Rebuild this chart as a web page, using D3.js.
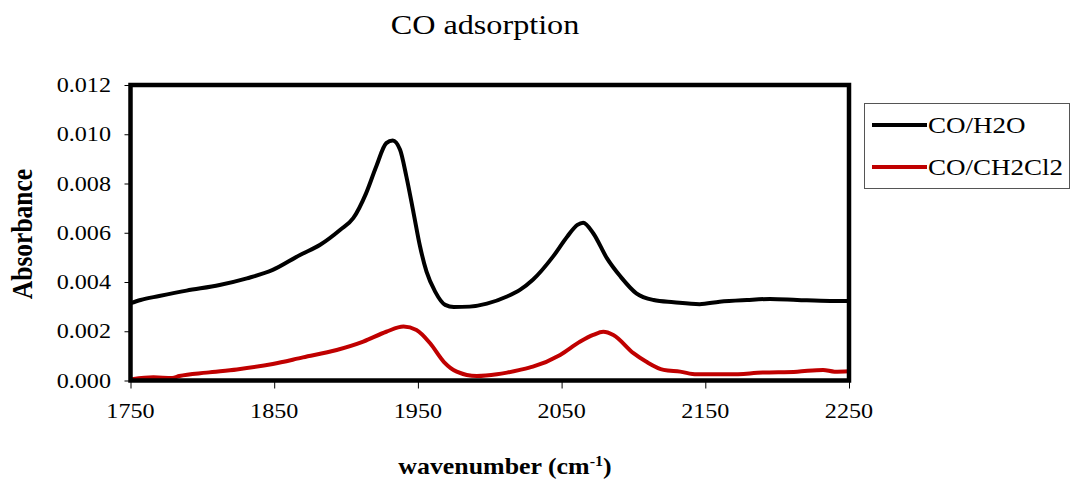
<!DOCTYPE html>
<html><head><meta charset="utf-8">
<script src="https://cdn.jsdelivr.net/npm/d3@7"></script>
<style>body{margin:0;background:#fff}</style>
</head><body><svg id="c" width="1071" height="481"></svg>
<script>
const seriesNames = ["CO/H2O", "CO/CH2Cl2"];
const seriesColors = ["#000000", "#C00000"];
const h2oWavenumber = [1750,1757,1770,1789,1812,1831,1849,1868,1882,1896,1905,1914,1921,1928,1932.5,1937.6,1942,1947,1951.5,1956,1962,1969,1975,1986,1998,2012,2021,2030,2044,2054,2061,2065,2072,2081.5,2091,2102,2114,2128,2146,2160,2179,2195,2214,2237,2250];
const h2oAbs = [0.00314,0.00327,0.00343,0.00365,0.00388,0.00415,0.00449,0.0051,0.00551,0.00612,0.00659,0.00761,0.00869,0.00964,0.00975,0.00937,0.00828,0.0068,0.00544,0.00442,0.00361,0.00307,0.00298,0.003,0.00312,0.00341,0.00368,0.00409,0.00503,0.00585,0.00632,0.00641,0.00598,0.00497,0.00422,0.00354,0.00327,0.00318,0.0031,0.0032,0.00327,0.00331,0.00327,0.00323,0.00323];
const ch2cl2Wavenumber = [1751,1766,1779,1784,1803,1824,1849,1870,1893.5,1912,1928,1940,1949,1958.5,1968,1977,1991,2005,2012,2021,2030,2049,2063,2072,2079,2086,2100,2109,2121,2132.5,2144,2167,2190,2214,2232,2240,2250];
const ch2cl2Abs = [0.00005,0.00013,0.0001,0.00018,0.00032,0.00045,0.00067,0.00094,0.00124,0.00158,0.00198,0.00219,0.00205,0.00151,0.00076,0.00036,0.00018,0.00025,0.00032,0.00043,0.00056,0.00104,0.00158,0.00185,0.00198,0.00185,0.00111,0.00076,0.00043,0.00036,0.00025,0.00025,0.00032,0.00036,0.00043,0.00036,0.00038];
const xTicks = [1750,1850,1950,2050,2150,2250];
const yTicks = [0,0.002,0.004,0.006,0.008,0.010,0.012];
const titleText = "CO adsorption";
const yLabel = "Absorbance";

const SX = 1.15;
const FONT = "'Liberation Serif','Times New Roman',serif";
const svg = d3.select("#c");
const L = 130.5, R = 849, T = 85, B = 380.5;
const x = d3.scaleLinear().domain([1750,2250]).range([L,R]);
const y = d3.scaleLinear().domain([0,0.012]).range([B,T]);

function txt(g, s, px, py, size, anchor, weight, rot) {
  return g.append("text").attr("transform", `translate(${px},${py}) scale(${SX},1)` + (rot ? ` rotate(${rot})` : ""))
    .attr("text-anchor", anchor).attr("font-family", FONT).attr("font-size", size)
    .attr("font-weight", weight || "normal").attr("fill", "#000").text(s);
}

// ticks
svg.append("g").attr("transform", `translate(${L},0)`)
  .call(d3.axisLeft(y).tickValues(yTicks).tickSize(6).tickFormat(""))
  .call(g => g.select(".domain").remove())
  .call(g => g.selectAll("line").attr("stroke", "#000").attr("stroke-width", 1));
svg.append("g").attr("transform", `translate(0,${B})`)
  .call(d3.axisBottom(x).tickValues(xTicks).tickSize(8).tickFormat(""))
  .call(g => g.select(".domain").remove())
  .call(g => g.selectAll("line").attr("stroke", "#000").attr("stroke-width", 1));

yTicks.forEach(v => txt(svg, d3.format(".3f")(v), 111, y(v) + 7, 21, "end"));
xTicks.forEach(v => txt(svg, String(v), x(v), 418, 21, "middle"));

// lines
const line = d3.line().x(d => x(d[0])).y(d => y(d[1])).curve(d3.curveMonotoneX);
const series = [d3.zip(h2oWavenumber, h2oAbs), d3.zip(ch2cl2Wavenumber, ch2cl2Abs)];
series.forEach((s, i) => svg.append("path").datum(s).attr("d", line)
  .attr("fill", "none").attr("stroke", seriesColors[i]).attr("stroke-width", 4)
  .attr("stroke-linejoin", "round"));

// frame
svg.append("rect").attr("x", L).attr("y", T).attr("width", R - L).attr("height", B - T)
  .attr("fill", "none").attr("stroke", "#000").attr("stroke-width", 4.5);

// title
txt(svg, titleText, 485, 34, 28, "middle");
// x label
const xl = txt(svg, "", 505, 474, 22.5, "middle", "bold");
xl.append("tspan").text("wavenumber (cm");
xl.append("tspan").attr("dy", -8).attr("font-size", 14).text("-1");
xl.append("tspan").attr("dy", 8).text(")");
// y label
txt(svg, yLabel, 32, 234, 25.5, "middle", "bold", -90);

// legend
const lg = svg.append("g");
lg.append("rect").attr("x", 864.5).attr("y", 103.5).attr("width", 205).attr("height", 85)
  .attr("fill", "#fff").attr("stroke", "#555").attr("stroke-width", 1);
seriesNames.forEach((n, i) => {
  const ly = 125 + i * 42;
  lg.append("line").attr("x1", 872).attr("x2", 927).attr("y1", ly).attr("y2", ly)
    .attr("stroke", seriesColors[i]).attr("stroke-width", 4);
  txt(lg, n, 928, ly + 8, 23.5, "start");
});
</script></body></html>
